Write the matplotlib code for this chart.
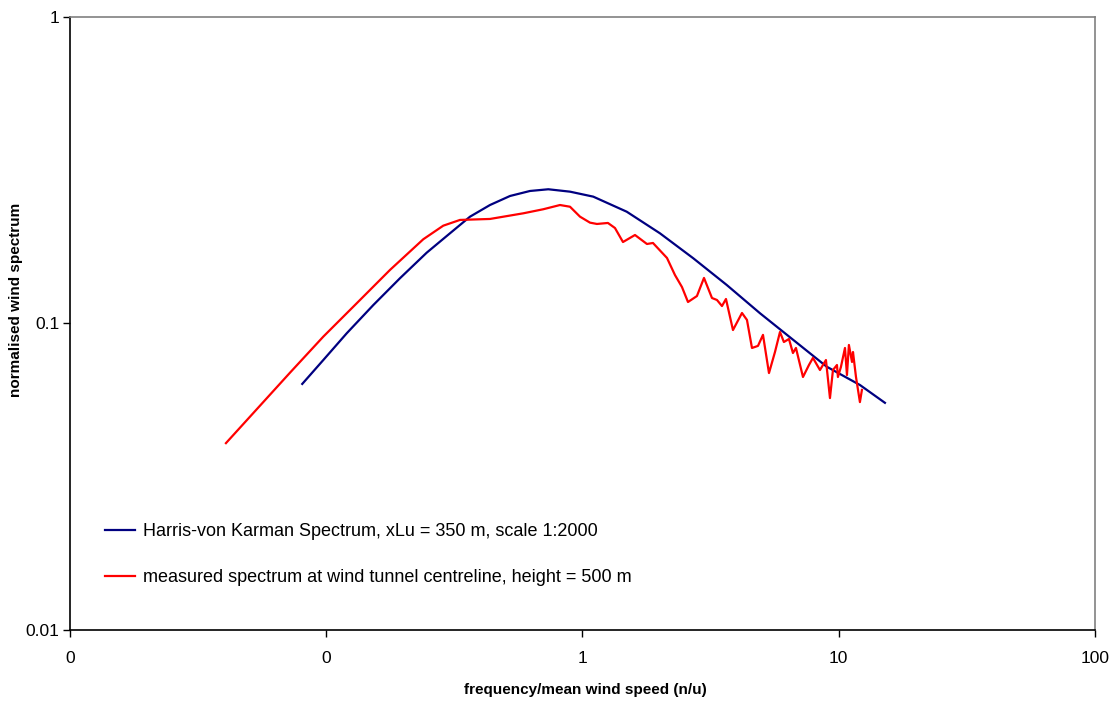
import matplotlib
matplotlib.use("Agg")
import matplotlib.pyplot as plt
from matplotlib.ticker import FixedLocator, FixedFormatter, NullLocator

plt.rcParams["font.family"] = ["Liberation Sans", "DejaVu Sans"]

# Harris-von Karman spectrum
hvk_x = [0.0806, 0.0974, 0.1202, 0.1527, 0.194, 0.2466, 0.304, 0.364, 0.4355,
         0.5214, 0.6238, 0.7355, 0.894, 1.102, 1.488, 2.006, 2.707, 3.654,
         4.929, 6.647, 8.975, 12.10, 15.15]
hvk_y = [0.0635, 0.0760, 0.0929, 0.1149, 0.1405, 0.1702, 0.1969, 0.2231, 0.2435,
         0.2606, 0.2706, 0.2741, 0.2692, 0.2593, 0.2316, 0.1969, 0.1632, 0.1336,
         0.1080, 0.0884, 0.0723, 0.0630, 0.0551]

# measured spectrum at wind tunnel centreline
meas_x = [0.0406, 0.0722, 0.0974, 0.1315, 0.1773, 0.2392, 0.2862, 0.3327, 0.4355,
          0.5875, 0.7031, 0.817, 0.894, 0.978, 1.070, 1.139, 1.257, 1.339,
          1.439, 1.603, 1.785, 1.884, 2.137, 2.296, 2.445, 2.581, 2.797, 2.980,
          3.202, 3.349, 3.503, 3.631, 3.867, 4.193, 4.385, 4.587, 4.841, 5.064,
          5.344, 5.640, 5.900, 6.11, 6.395, 6.629, 6.81, 7.254, 7.654, 7.934,
          8.45, 8.917, 9.245, 9.497, 9.845, 9.93, 10.20, 10.58, 10.77, 10.96,
          11.27, 11.37, 11.68, 12.10, 12.32]
meas_y = [0.0407, 0.0691, 0.0906, 0.1164, 0.1495, 0.1883, 0.2085, 0.2177, 0.2193,
          0.2288, 0.2359, 0.2435, 0.2404, 0.2231, 0.2133, 0.2112, 0.2128, 0.2049,
          0.1844, 0.1944, 0.1817, 0.1831, 0.1636, 0.1439, 0.1315, 0.1175, 0.1229,
          0.1408, 0.1211, 0.1193, 0.1140, 0.1202, 0.0952, 0.1082, 0.1027, 0.0832,
          0.0845, 0.0918, 0.0689, 0.0807, 0.0938, 0.0870, 0.0890, 0.0801, 0.0832,
          0.0669, 0.0732, 0.0772, 0.0705, 0.0760, 0.0571, 0.0705, 0.0732, 0.0669,
          0.0721, 0.0832, 0.0679, 0.0851, 0.0749, 0.0807, 0.0669, 0.0554, 0.0607]

x_ticks = [0.01, 0.1, 1, 10, 100]
x_tick_labels = ["0", "0", "1", "10", "100"]
y_ticks = [0.01, 0.1, 1]
y_tick_labels = ["0.01", "0.1", "1"]

fig = plt.figure(figsize=(11.15, 7.02), dpi=100)
ax = fig.add_axes([0.0628, 0.1026, 0.9192, 0.8732])

ax.plot(hvk_x, hvk_y, color="#000080", lw=1.6,
        label="Harris-von Karman Spectrum, xLu = 350 m, scale 1:2000")
ax.plot(meas_x, meas_y, color="#ff0000", lw=1.6,
        label="measured spectrum at wind tunnel centreline, height = 500 m")

ax.set_xscale("log")
ax.set_yscale("log")
ax.set_xlim(0.01, 100)
ax.set_ylim(0.01, 1)

ax.xaxis.set_major_locator(FixedLocator(x_ticks))
ax.xaxis.set_major_formatter(FixedFormatter(x_tick_labels))
ax.xaxis.set_minor_locator(NullLocator())
ax.yaxis.set_major_locator(FixedLocator(y_ticks))
ax.yaxis.set_major_formatter(FixedFormatter(y_tick_labels))
ax.yaxis.set_minor_locator(NullLocator())
ax.tick_params(direction="out", length=5, width=1, labelsize=12.5)
ax.tick_params(axis="x", pad=10)
ax.tick_params(axis="y", pad=2.5)

for side in ["top", "right"]:
    ax.spines[side].set_color("#808080")
    ax.spines[side].set_linewidth(1.2)
for side in ["left", "bottom"]:
    ax.spines[side].set_color("black")
    ax.spines[side].set_linewidth(1.2)

ax.set_xlabel("frequency/mean wind speed (n/u)", fontsize=11, fontweight="bold")
ax.set_ylabel("normalised wind spectrum", fontsize=11, fontweight="bold")
ax.xaxis.set_label_coords(0.503, -0.086, transform=ax.transAxes)
ax.yaxis.set_label_coords(-0.046, 0.538, transform=ax.transAxes)

ax.legend(loc="upper left", bbox_to_anchor=(0.034, 0.1746), frameon=False,
          fontsize=13, handlelength=1.66, handletextpad=0.44, labelspacing=1.6,
          borderpad=0, borderaxespad=0)

fig.savefig("out.png", dpi=100)
